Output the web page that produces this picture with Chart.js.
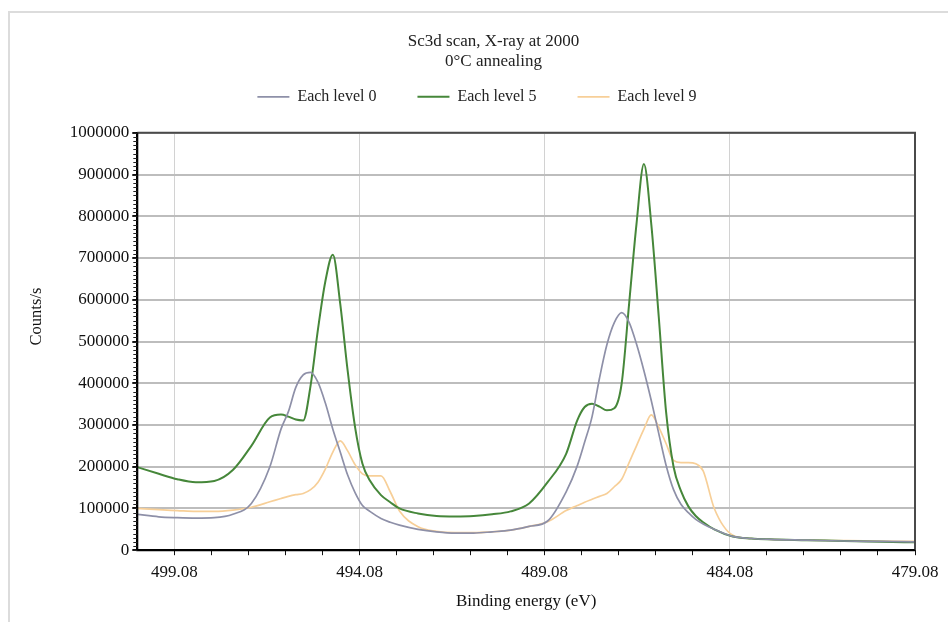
<!DOCTYPE html>
<html>
<head>
<meta charset="utf-8">
<title>Sc3d scan</title>
<script src="https://cdn.jsdelivr.net/npm/chart.js@4.4.0/dist/chart.umd.min.js"></script>
<style>
  html, body { margin: 0; padding: 0; background: #fff; }
  #wrap { position: relative; width: 948px; height: 622px; overflow: hidden; }
  #frame { position: absolute; left: 8px; top: 11px; right: -4px; bottom: -4px;
           border-top: 2px solid #dcdcdc; border-left: 2px solid #dcdcdc; }
  canvas { position: absolute; left: 0; top: 0; }
</style>
</head>
<body>
<div id="wrap">
  <div id="frame"></div>
  <canvas id="xpsChart" width="948" height="622"></canvas>
</div>
<script>
// binding energy (eV), high to low as scanned
const energy = [500.08, 499.5, 499.0, 498.5, 498.0, 497.5, 497.0, 496.5, 496.2, 496.0,
  495.8, 495.6, 495.4, 495.2, 495.0, 494.8, 494.6, 494.4, 494.2, 494.0,
  493.8, 493.5, 493.25, 493.0, 492.5, 492.0, 491.5, 491.0, 490.5, 490.0,
  489.5, 489.0, 488.5, 488.2, 488.0, 487.8, 487.6, 487.4, 487.2, 487.0,
  486.8, 486.6, 486.4, 486.2, 486.0, 485.8, 485.6, 485.4, 485.2, 485.0,
  484.8, 484.5, 484.0, 483.5, 483.0, 482.0, 481.0, 480.0, 479.08];

const level0 = [86000, 80000, 78000, 77000, 78000, 86000, 112000, 200000, 290000, 332000,
  390000, 420000, 426000, 402000, 352000, 290000, 235000, 180000, 138000, 107000,
  93000, 76000, 67000, 60000, 50000, 44000, 41000, 41000, 44000, 48000,
  57000, 70000, 140000, 202000, 259000, 320000, 412000, 492000, 545000, 569000,
  546000, 494000, 430000, 358000, 280000, 203000, 145000, 110000, 90000, 74000,
  63000, 50000, 33000, 28000, 26000, 24000, 22000, 21000, 20000];

const level5 = [199000, 183000, 170000, 163000, 166000, 192000, 250000, 318000, 325000, 320000,
  313000, 311000, 395000, 530000, 645000, 708000, 590000, 430000, 295000, 207000,
  167000, 132000, 115000, 100000, 88000, 82000, 81000, 82000, 86000, 93000,
  112000, 163000, 231000, 311000, 343000, 351000, 344000, 335000, 340000, 400000,
  590000, 782000, 925000, 780000, 560000, 330000, 200000, 142000, 105000, 82000,
  67000, 50000, 33000, 28000, 26000, 24000, 22000, 20000, 19000];

const level9 = [100000, 97000, 95000, 93000, 93000, 96000, 103000, 116000, 124000, 129000,
  133000, 136000, 145000, 163000, 195000, 235000, 262000, 238000, 205000, 183000,
  178000, 178000, 140000, 94000, 56000, 45000, 42000, 42000, 44000, 48000,
  57000, 68000, 95000, 107000, 115000, 122000, 129000, 136000, 152000, 170000,
  210000, 250000, 290000, 324000, 295000, 255000, 215000, 210000, 210000, 207000,
  190000, 100000, 36000, 28000, 26000, 24000, 23000, 22000, 21000];

const seriesLabels = ['Each level 0', 'Each level 5', 'Each level 9'];
const titleLines = ['Sc3d scan, X-ray at 2000', '0\u00B0C annealing'];

// labelled energies; unlabelled ticks every 1 eV in between
const xMajor = [499.08, 494.08, 489.08, 484.08, 479.08];
const yTicks = [0, 100000, 200000, 300000, 400000, 500000, 600000, 700000, 800000, 900000, 1000000];

const serif = "'Liberation Serif', 'Times New Roman', serif";

const xTicks = [];
for (let k = 0; k <= 20; k++) xTicks.push(+(479.08 + k).toFixed(2));
const isMajor = v => xMajor.some(m => Math.abs(m - v) < 0.001);

const toPoints = vals => energy.map((e, i) => ({ x: e, y: vals[i] }));

// box round the plot plus the fine minor ticks on the count axis
const plotFrame = {
  id: 'plotFrame',
  afterDraw(chart) {
    const { ctx, chartArea: a, scales: { y } } = chart;
    ctx.save();
    ctx.lineWidth = 2;
    ctx.strokeStyle = '#4a4a4a';
    ctx.beginPath();
    ctx.moveTo(a.left, a.top); ctx.lineTo(a.right, a.top); ctx.lineTo(a.right, a.bottom);
    ctx.stroke();
    ctx.strokeStyle = '#000';
    ctx.beginPath();
    ctx.moveTo(a.left, a.top); ctx.lineTo(a.left, a.bottom); ctx.lineTo(a.right, a.bottom);
    ctx.stroke();
    ctx.lineWidth = 1;
    ctx.strokeStyle = '#222';
    for (let v = 0; v <= y.max; v += 10000) {
      const py = Math.round(y.getPixelForValue(v)) + 0.5;
      ctx.beginPath();
      ctx.moveTo(a.left - 4, py);
      ctx.lineTo(a.left, py);
      ctx.stroke();
    }
    ctx.restore();
  }
};

// more room under the legend, header text nudged right of the canvas centre,
// and the count-axis title raised a little above the middle of the axis
const headerSpacing = {
  id: 'headerSpacing',
  beforeInit(chart) {
    const fit = chart.legend.fit;
    chart.legend.fit = function () {
      fit.call(this);
      this.height += 18;
    };
  },
  afterLayout(chart) {
    chart.titleBlock.left += 62;
    chart.legend.left += 29;
    const y = chart.scales.y;
    if (!y.titleRaised) {
      const drawTitle = y.drawTitle;
      y.drawTitle = function () {
        this.ctx.save();
        this.ctx.translate(0, -25);
        drawTitle.call(this);
        this.ctx.restore();
      };
      y.titleRaised = true;
    }
  }
};

const line = (label, vals, color, width) => ({
  label,
  data: toPoints(vals),
  borderColor: color,
  backgroundColor: color,
  borderWidth: width,
  pointRadius: 0,
  cubicInterpolationMode: 'monotone'
});

new Chart(document.getElementById('xpsChart'), {
  type: 'line',
  data: {
    datasets: [
      line(seriesLabels[0], level0, '#8e90a8', 1.7),
      line(seriesLabels[1], level5, '#46873a', 2),
      line(seriesLabels[2], level9, '#f7cf98', 1.7)
    ]
  },
  options: {
    responsive: false,
    animation: false,
    events: [],
    devicePixelRatio: 1,
    layout: { padding: { left: 10, right: 33, top: 0, bottom: 4 } },
    plugins: {
      title: {
        display: true,
        text: titleLines,
        color: '#222',
        font: { family: serif, size: 17, weight: 'normal', lineHeight: 1.2 },
        padding: { top: 31, bottom: 0 }
      },
      legend: {
        labels: {
          color: '#222',
          font: { family: serif, size: 16 },
          usePointStyle: true,
          pointStyle: 'line',
          pointStyleWidth: 32,
          padding: 17,
          generateLabels(chart) {
            const items = Chart.defaults.plugins.legend.labels.generateLabels(chart);
            return items.map((it, i) => i < items.length - 1 ? { ...it, text: it.text + '      ' } : it);
          }
        }
      },
      tooltip: { enabled: false }
    },
    scales: {
      x: {
        type: 'linear',
        reverse: true,
        min: 479.08,
        max: 500.08,
        afterBuildTicks(scale) { scale.ticks = xTicks.map(v => ({ value: v })); },
        ticks: {
          autoSkip: false,
          maxRotation: 0,
          padding: 7,
          color: '#111',
          font: { family: serif, size: 17 },
          callback: v => isMajor(v) ? v.toFixed(2) : ''
        },
        grid: {
          color: c => (c.tick && isMajor(c.tick.value)) ? '#d2d2d2' : 'rgba(0,0,0,0)',
          lineWidth: 1,
          tickLength: 5,
          tickColor: '#111'
        },
        border: { color: '#000', width: 2 },
        title: {
          display: true,
          text: 'Binding energy (eV)',
          color: '#111',
          font: { family: serif, size: 17 },
          padding: { top: 2, bottom: 6 }
        }
      },
      y: {
        min: 0,
        max: 1000000,
        afterBuildTicks(scale) { scale.ticks = yTicks.map(v => ({ value: v })); },
        ticks: {
          padding: 3,
          color: '#111',
          font: { family: serif, size: 17 },
          callback: v => String(v)
        },
        grid: { color: '#bdbdbd', lineWidth: 2, tickLength: 5, tickColor: '#111' },
        border: { color: '#000', width: 2 },
        title: {
          display: true,
          text: 'Counts/s',
          color: '#111',
          font: { family: serif, size: 16.5 },
          padding: { top: 17, bottom: 20 }
        }
      }
    }
  },
  plugins: [plotFrame, headerSpacing]
});
</script>
</body>
</html>
